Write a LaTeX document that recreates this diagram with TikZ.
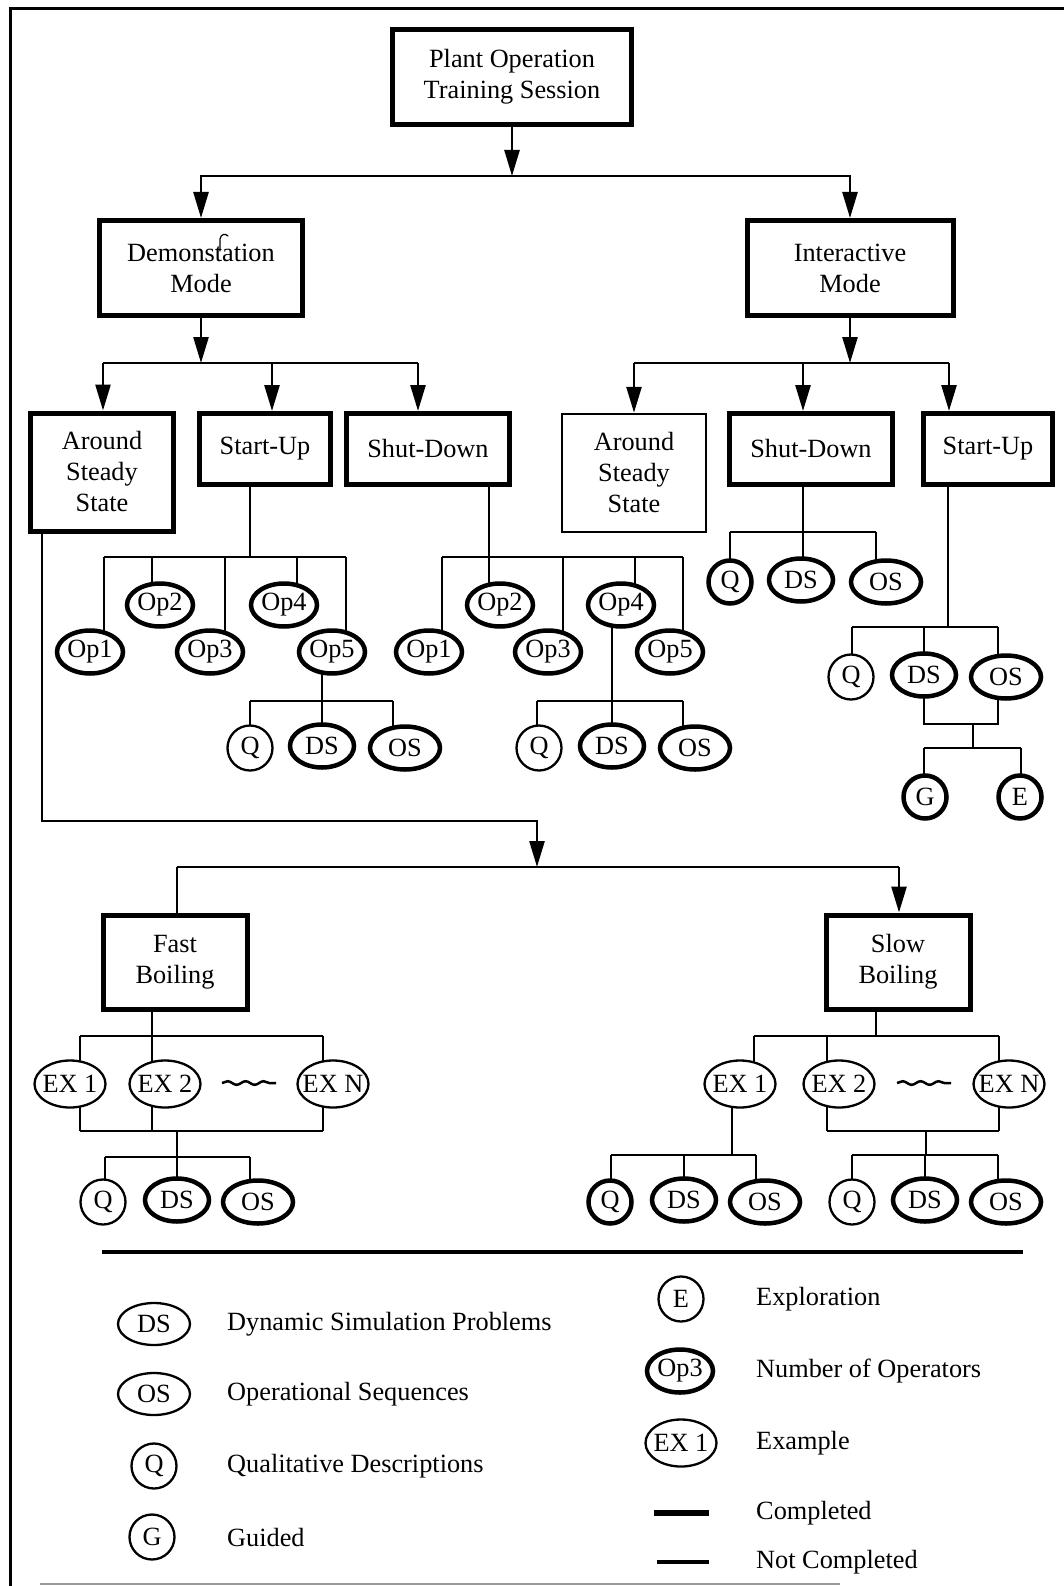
\documentclass[tikz,border=0pt]{standalone}
\usepackage{fontspec}
\setmainfont{Liberation Serif}
\usetikzlibrary{shapes.geometric,arrows.meta,backgrounds,decorations.pathmorphing}
\newcommand\lblfont{\fontsize{26.3}{31}\selectfont}
\newcommand\zw[1]{\makebox[0pt]{#1}}
\begin{document}
\begin{tikzpicture}[x=1pt,y=-1pt,
  every node/.style={font=\lblfont, inner sep=0pt},
  box/.style={draw, rectangle, fill=white, align=center, line width=5pt},
  thinbox/.style={box, line width=2.5pt},
  opov/.style={draw, ellipse, fill=white, line width=4.5pt, minimum width=66pt, minimum height=43pt},
  dsov/.style={opov, minimum width=64pt},
  osov/.style={opov, minimum width=70pt},
  exov/.style={draw, ellipse, fill=white, line width=2.3pt, minimum width=71pt, minimum height=47pt},
  lgov/.style={exov, minimum width=72pt, minimum height=42pt},
  qthin/.style={draw, circle, fill=white, line width=2.3pt, minimum size=45pt},
  qthick/.style={draw, circle, fill=white, line width=4.5pt, minimum size=43pt},
  link/.style={line width=2.6pt},
  arr/.style={link, -{Triangle[length=26pt,width=15pt]}},
  key/.style={anchor=west},
  wave/.style={line width=2.5pt, decorate, decoration={snake, amplitude=1.8pt, segment length=18pt}},
]
\useasboundingbox (0,0) rectangle (1064,1586);

% page frame
\draw[line width=3pt] (10,1586) -- (10,9) -- (1064,9);
\draw[black!40, line width=1.5pt] (40,1584) -- (840,1584);

% ---------- boxes ----------
\node[box, minimum width=239pt, minimum height=95pt] (plant) at (512,77) {Plant Operation\\Training Session};
\node[box, minimum width=203pt, minimum height=95pt] (demo) at (201,268) {Demonstation\\Mode};
% hand-written insertion mark above the word
\draw[line width=1.2pt, line cap=round] (220,251) -- (220,239) .. controls (221,234) and (225,233) .. (228,236);
\node[box, minimum width=206pt, minimum height=95pt] (inter) at (850,268) {Interactive\\Mode};

\node[box, minimum width=143pt, minimum height=118pt] (assL) at (102,472) {Around\\Steady\\State};
\node[box, minimum width=131pt, minimum height=71pt] (suL) at (265,449) {Start-Up};
\node[box, minimum width=163pt, minimum height=71pt] (sdL) at (428,449) {Shut-Down};
\node[thinbox, minimum width=144pt, minimum height=118pt] (assR) at (634,473) {Around\\Steady\\State};
\node[box, minimum width=163pt, minimum height=71pt] (sdR) at (811,449) {Shut-Down};
\node[box, minimum width=129pt, minimum height=71pt] (suR) at (988,449) {Start-Up};

\node[box, minimum width=144pt, minimum height=94pt] (fast) at (175,962) {Fast\\Boiling};
\node[box, minimum width=144pt, minimum height=94pt] (slow) at (898,962) {Slow\\Boiling};

% ---------- demonstration: start-up ----------
\node[opov] (op1a) at (90,652) {Op1};
\node[opov] (op2a) at (160,605) {Op2};
\node[opov] (op3a) at (210,652) {Op3};
\node[opov] (op4a) at (284,605) {Op4};
\node[opov] (op5a) at (332,652) {Op5};
\node[qthin] (qa) at (250,748) {Q};
\node[dsov] (dsa) at (322,746) {DS};
\node[osov] (osa) at (405,748) {OS};

% ---------- demonstration: shut-down ----------
\node[opov] (op1b) at (429,652) {Op1};
\node[opov] (op2b) at (500,605) {Op2};
\node[opov] (op3b) at (548,652) {Op3};
\node[opov] (op4b) at (621,605) {Op4};
\node[opov] (op5b) at (670,652) {Op5};
\node[qthin] (qb) at (539,748) {Q};
\node[dsov] (dsb) at (612,746) {DS};
\node[osov] (osb) at (695,748) {OS};

% ---------- interactive: shut-down ----------
\node[qthick] (qc) at (730,582) {Q};
\node[dsov] (dsc) at (801,580) {DS};
\node[osov] (osc) at (886,582) {OS};

% ---------- interactive: start-up ----------
\node[qthin] (qd) at (851,677) {Q};
\node[dsov] (dsd) at (924,675) {DS};
\node[osov] (osd) at (1006,677) {OS};
\node[qthick] (gd) at (925,797) {G};
\node[qthick] (ed) at (1020,797) {E};

% ---------- fast boiling ----------
\node[exov] (ex1f) at (70,1084) {\zw{EX 1}};
\node[exov] (ex2f) at (165,1084) {\zw{EX 2}};
\node[exov] (exnf) at (333,1084) {\zw{EX N}};
\node[qthin] (qf) at (103,1202) {Q};
\node[dsov] (dsf) at (177,1200) {DS};
\node[osov] (osf) at (258,1202) {OS};

% ---------- slow boiling ----------
\node[exov] (ex1s) at (740,1084) {\zw{EX 1}};
\node[exov] (ex2s) at (839,1084) {\zw{EX 2}};
\node[exov] (exns) at (1009,1084) {\zw{EX N}};
\node[qthick] (qs1) at (610,1202) {Q};
\node[dsov] (dss1) at (684,1200) {DS};
\node[osov] (oss1) at (765,1202) {OS};
\node[qthin] (qs2) at (852,1202) {Q};
\node[dsov] (dss2) at (925,1200) {DS};
\node[osov] (oss2) at (1006,1202) {OS};

\draw[wave] (222,1083) -- (276,1083);
\draw[wave] (897,1083) -- (951,1083);

% ---------- connectors ----------
\begin{scope}[on background layer]
  % session to modes
  \coordinate (t0) at (512,176);
  \draw[arr] (plant) -- (t0);
  \draw[arr] (t0) -| (demo.north);
  \draw[arr] (t0) -| (inter.north);

  % demonstration mode to its exercises
  \coordinate (d0) at (201,363);
  \coordinate (d1) at (103,363);
  \coordinate (d2) at (272,363);
  \coordinate (d3) at (418,363);
  \draw[arr] (demo) -- (d0);
  \draw[link] (d1) -- (d3);
  \draw[arr] (d1) -- (d1 |- assL.north);
  \draw[arr] (d2) -- (d2 |- suL.north);
  \draw[arr] (d3) -- (d3 |- sdL.north);

  % interactive mode to its exercises
  \coordinate (i0) at (850,363);
  \coordinate (i1) at (634,363);
  \coordinate (i2) at (803,363);
  \coordinate (i3) at (949,363);
  \draw[arr] (inter) -- (i0);
  \draw[link] (i1) -- (i3);
  \draw[arr] (i1) -- (i1 |- assR.north);
  \draw[arr] (i2) -- (i2 |- sdR.north);
  \draw[arr] (i3) -- (i3 |- suR.north);

  % demonstration start-up
  \coordinate (a0) at (250,557);
  \draw[link] (a0 |- suL.south) -- (a0);
  \draw[link] (104,557) -- (346,557);
  \foreach \x/\n in {104/op1a,152/op2a,225/op3a,297/op4a,346/op5a}
    \draw[link] (\x,557) -- (\x,0 |- \n.center);
  \coordinate (a1) at (322,701);
  \draw[link] (a1 |- op5a.center) -- (a1);
  \draw[link] (250,701) -- (393,701);
  \foreach \x/\n in {250/qa,322/dsa,393/osa}
    \draw[link] (\x,701) -- (\x,0 |- \n.center);

  % demonstration shut-down
  \coordinate (b0) at (489,557);
  \draw[link] (b0 |- sdL.south) -- (b0);
  \draw[link] (442,557) -- (683,557);
  \foreach \x/\n in {442/op1b,489/op2b,563/op3b,635/op4b,683/op5b}
    \draw[link] (\x,557) -- (\x,0 |- \n.center);
  \coordinate (b1) at (612,701);
  \draw[link] (b1 |- op4b.center) -- (b1);
  \draw[link] (537,701) -- (683,701);
  \foreach \x/\n in {537/qb,612/dsb,683/osb}
    \draw[link] (\x,701) -- (\x,0 |- \n.center);

  % interactive shut-down
  \coordinate (c0) at (803,532);
  \draw[link] (c0 |- sdR.south) -- (c0);
  \draw[link] (730,532) -- (876,532);
  \foreach \x/\n in {730/qc,803/dsc,876/osc}
    \draw[link] (\x,532) -- (\x,0 |- \n.center);

  % interactive start-up
  \coordinate (e0) at (948,627);
  \draw[link] (e0 |- suR.south) -- (e0);
  \draw[link] (852,627) -- (998,627);
  \foreach \x/\n in {852/qd,924/dsd,998/osd}
    \draw[link] (\x,627) -- (\x,0 |- \n.center);
  \draw[link] (924,0 |- dsd.center) -- (924,724) -- (998,724) -- (998,0 |- osd.center);
  \draw[link] (973,724) -- (973,748);
  \draw[link] (924,748) -- (1021,748);
  \draw[link] (924,748) -- (924,0 |- gd.center);
  \draw[link] (1021,748) -- (1021,0 |- ed.center);

  % around steady state (demonstration) to the boiling cases
  \coordinate (l0) at (42,821);
  \coordinate (l1) at (537,821);
  \coordinate (l2) at (537,867);
  \draw[arr] (l0 |- assL.south) -- (l0) -- (l1) -- (l2);
  \coordinate (f0) at (177,867);
  \coordinate (s0) at (899,867);
  \draw[link] (f0) -- (s0);
  \draw[link] (f0) -- (f0 |- fast.north);
  \draw[arr] (s0) -- (s0 |- slow.north);

  % fast boiling
  \coordinate (fb) at (152,1036);
  \draw[link] (fb |- fast.south) -- (fb);
  \draw[link] (80,1036) -- (323,1036);
  \draw[link] (80,1036) -- (80,1131);
  \draw[link] (152,1036) -- (152,1131);
  \draw[link] (323,1036) -- (323,1131);
  \draw[link] (80,1131) -- (323,1131);
  \draw[link] (177,1131) -- (177,1157);
  \draw[link] (105,1157) -- (250,1157);
  \foreach \x/\n in {105/qf,177/dsf,250/osf}
    \draw[link] (\x,1157) -- (\x,0 |- \n.center);

  % slow boiling
  \coordinate (sb) at (876,1036);
  \draw[link] (sb |- slow.south) -- (sb);
  \draw[link] (754,1036) -- (999,1036);
  \draw[link] (754,1036) -- (754,0 |- ex1s.center);
  \draw[link] (827,1036) -- (827,1131);
  \draw[link] (999,1036) -- (999,1131);
  \draw[link] (827,1131) -- (999,1131);
  \draw[link] (732,0 |- ex1s.center) -- (732,1155);
  \draw[link] (611,1155) -- (756,1155);
  \foreach \x/\n in {611/qs1,684/dss1,756/oss1}
    \draw[link] (\x,1155) -- (\x,0 |- \n.center);
  \draw[link] (926,1131) -- (926,1155);
  \draw[link] (852,1155) -- (998,1155);
  \foreach \x/\n in {852/qs2,925/dss2,998/oss2}
    \draw[link] (\x,1155) -- (\x,0 |- \n.center);
\end{scope}

% ---------- legend ----------
\draw[line width=3.5pt] (102,1252) -- (1023,1252);

\node[lgov] (kds) at (154,1324) {DS};
\node[key] (tds) at (227,1324) {Dynamic Simulation Problems};
\node[lgov] (kos) at (154,1394) {OS};
\node[key] (tos) at (227,1394) {Operational Sequences};
\node[qthin] (kq) at (154,1466) {Q};
\node[key] (tq) at (227,1466) {Qualitative Descriptions};
\node[qthin] (kg) at (152,1537) {G};
\node[key] (tg) at (227,1537) {Guided};

\node[qthin] (ke) at (681,1299) {E};
\node[key] (te) at (756,1299) {Exploration};
\node[opov] (kop) at (680,1371) {Op3};
\node[key] (top) at (756,1371) {Number of Operators};
\node[exov] (kex) at (681,1443) {\zw{EX 1}};
\node[key] (tex) at (756,1443) {Example};
\coordinate (kc0) at (654,1513);
\coordinate (kc1) at (709,1513);
\draw[line width=6pt] (kc0) -- (kc1);
\node[key] (tc) at (756,1513) {Completed};
\coordinate (kn0) at (657,1562);
\coordinate (kn1) at (709,1562);
\draw[line width=3.5pt] (kn0) -- (kn1);
\node[key] (tn) at (756,1562) {Not Completed};
\end{tikzpicture}
\end{document}
